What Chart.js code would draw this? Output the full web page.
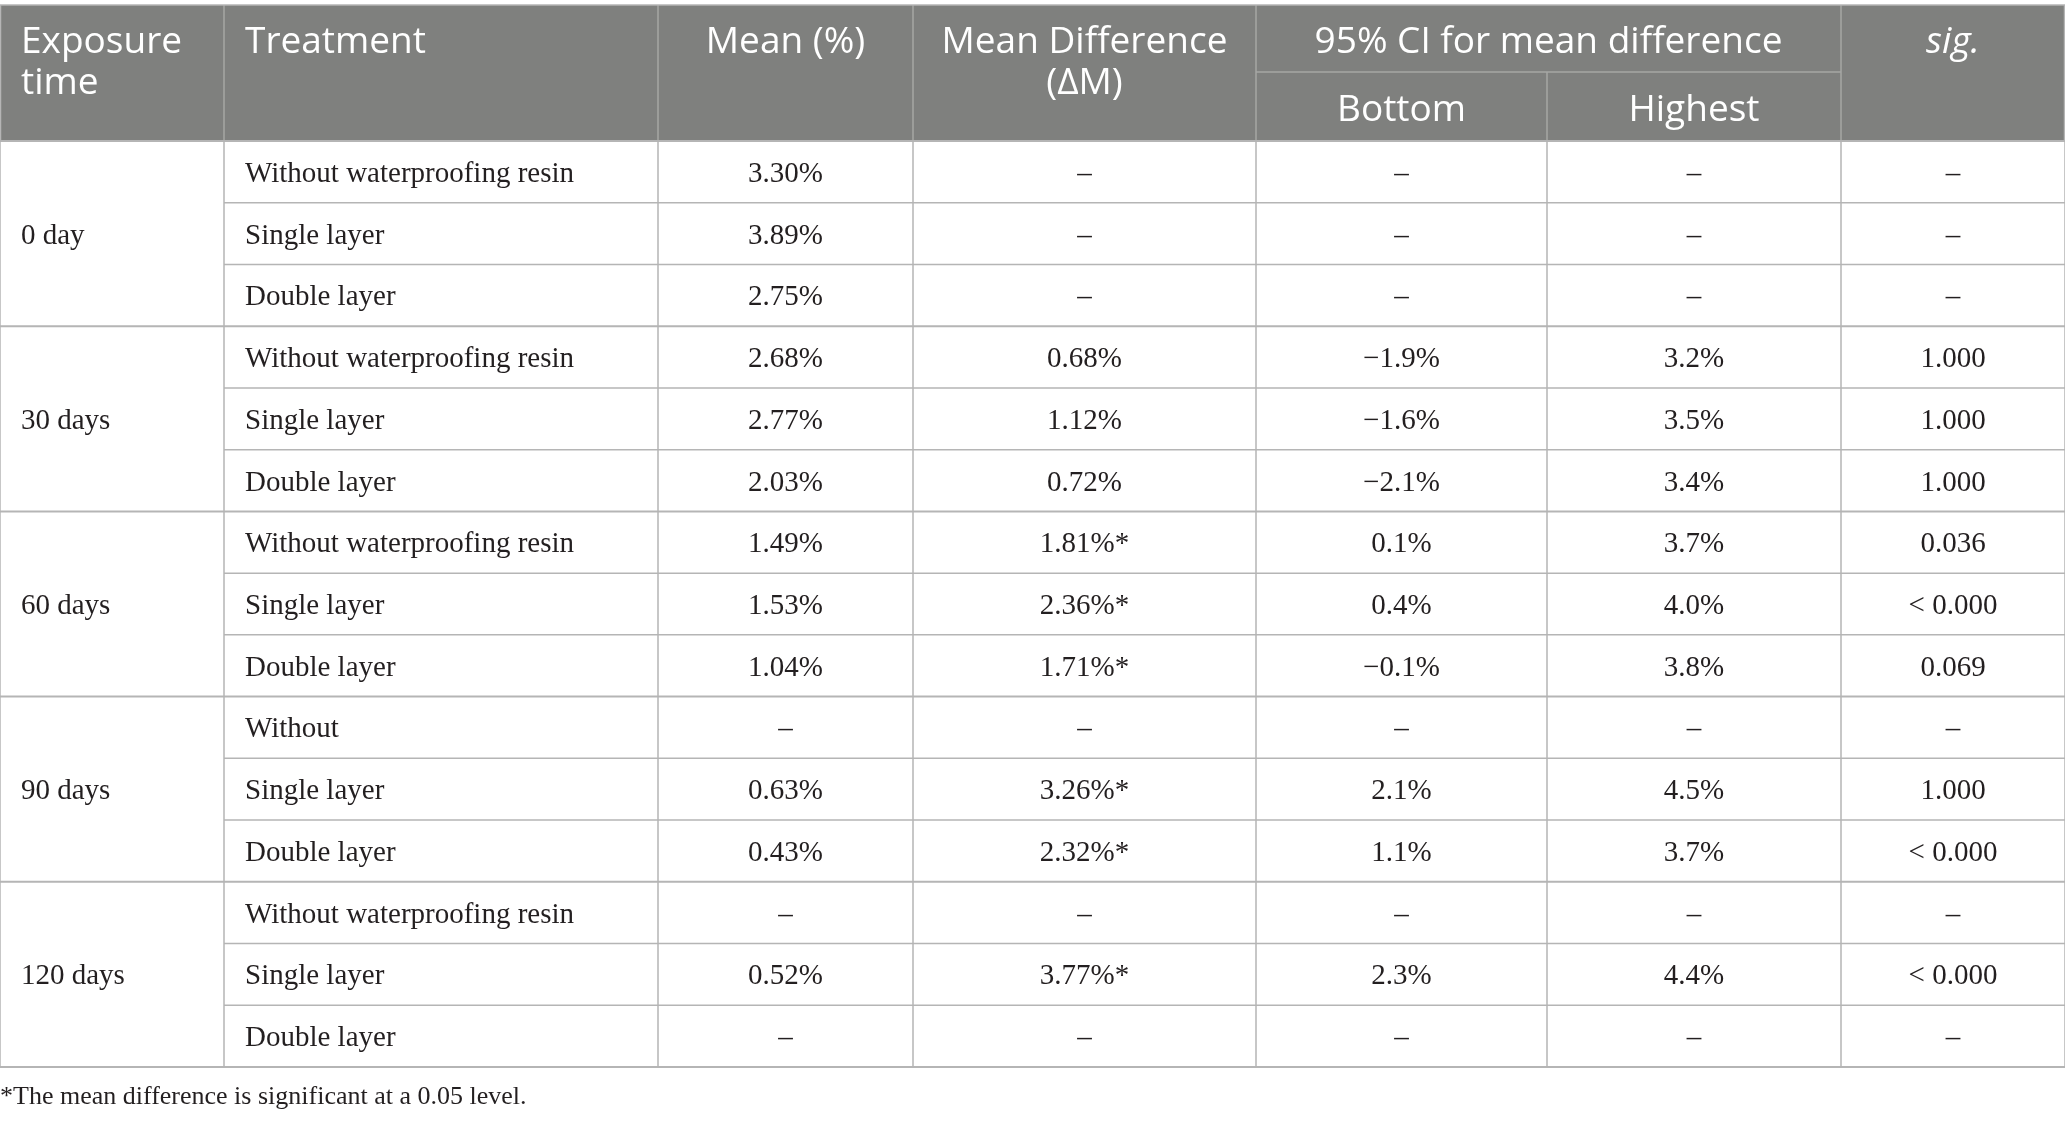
<!DOCTYPE html>
<html lang="en">
<head>
<meta charset="UTF-8">
<title>Mean values by exposure time and treatment</title>
<script src="https://cdn.jsdelivr.net/npm/chart.js"></script>
<style>
  html, body { margin: 0; padding: 0; background: #fff; }
  .wrap { width: 2065px; height: 1122px; position: relative; }
</style>
</head>
<body>
<div class="wrap"><canvas id="tableChart"></canvas></div>
<script>
  // table data
  const exposureTimes = ['0 day', '30 days', '60 days', '90 days', '120 days'];
  const treatments = [
    'Without waterproofing resin', 'Single layer', 'Double layer',
    'Without waterproofing resin', 'Single layer', 'Double layer',
    'Without waterproofing resin', 'Single layer', 'Double layer',
    'Without', 'Single layer', 'Double layer',
    'Without waterproofing resin', 'Single layer', 'Double layer'
  ];
  const meanValues = ['3.30%', '3.89%', '2.75%', '2.68%', '2.77%', '2.03%', '1.49%', '1.53%', '1.04%', '–', '0.63%', '0.43%', '–', '0.52%', '–'];
  const meanDiffs = ['–', '–', '–', '0.68%', '1.12%', '0.72%', '1.81%*', '2.36%*', '1.71%*', '–', '3.26%*', '2.32%*', '–', '3.77%*', '–'];
  const ciBottom = ['–', '–', '–', '−1.9%', '−1.6%', '−2.1%', '0.1%', '0.4%', '−0.1%', '–', '2.1%', '1.1%', '–', '2.3%', '–'];
  const ciHighest = ['–', '–', '–', '3.2%', '3.5%', '3.4%', '3.7%', '4.0%', '3.8%', '–', '4.5%', '3.7%', '–', '4.4%', '–'];
  const sigValues = ['–', '–', '–', '1.000', '1.000', '1.000', '0.036', '< 0.000', '0.069', '–', '1.000', '< 0.000', '–', '< 0.000', '–'];
  const headerLabels = ['Exposure\ntime', 'Treatment', 'Mean (%)', 'Mean Difference\n(ΔM)', '95% CI for mean difference', 'sig.'];
  const subHeaderLabels = ['Bottom', 'Highest'];
  const footnote = '*The mean difference is significant at a 0.05 level.';

  // layout (in scale units = page pixels)
  const colEdges = [0, 224, 658, 913, 1256, 1547, 1841, 2065];
  const headerTop = 5, headerMid = 72, headerBottom = 141, tableBottom = 1067;
  const rowsPerGroup = 3;
  const rowH = (tableBottom - headerBottom) / treatments.length;
  const headFont = '37px "Open Sans", sans-serif';
  const bodyFont = '29px "Liberation Serif", serif';

  const bodyColumns = [treatments, meanValues, meanDiffs, ciBottom, ciHighest, sigValues];

  // one invisible point per body cell, placed through the scales
  const cellPoints = [];
  exposureTimes.forEach((t, g) => {
    cellPoints.push({ x: colEdges[0] + 21, y: headerBottom + (g * rowsPerGroup + 1.5) * rowH, text: t, align: 'left' });
  });
  bodyColumns.forEach((col, c) => {
    col.forEach((v, r) => {
      const left = c === 0;
      cellPoints.push({
        x: left ? colEdges[1] + 21 : (colEdges[c + 1] + colEdges[c + 2]) / 2,
        y: headerBottom + (r + 0.5) * rowH,
        text: v,
        align: left ? 'left' : 'center'
      });
    });
  });

  const tablePlugin = {
    id: 'tablePlugin',
    beforeDatasetsDraw(chart) {
      const { ctx, scales: { x, y } } = chart;
      const X = v => x.getPixelForValue(v);
      const Y = v => y.getPixelForValue(v);
      ctx.save();
      // header background
      ctx.fillStyle = '#7f807e';
      ctx.fillRect(X(0), Y(headerTop), X(2065) - X(0), Y(headerBottom) - Y(headerTop));

      // header lines
      ctx.strokeStyle = '#a6a7a5';
      ctx.lineWidth = 1.5;
      const line = (x1, y1, x2, y2) => {
        ctx.beginPath();
        ctx.moveTo(X(x1), Y(y1));
        ctx.lineTo(X(x2), Y(y2));
        ctx.stroke();
      };
      [1, 2, 3, 4, 6].forEach(i => line(colEdges[i], headerTop, colEdges[i], headerBottom));
      line(colEdges[5], headerMid, colEdges[5], headerBottom);
      line(colEdges[4], headerMid, colEdges[6], headerMid);

      // body grid
      ctx.strokeStyle = '#b5b5b5';
      ctx.lineWidth = 1.5;
      line(0, headerTop, 2065, headerTop);
      for (let r = 0; r <= treatments.length; r++) {
        const yy = headerBottom + r * rowH;
        const groupEdge = r % rowsPerGroup === 0;
        if (groupEdge) {
          ctx.lineWidth = 2;
          line(0, yy, 2065, yy);
        } else {
          ctx.lineWidth = 1.5;
          line(colEdges[1], yy, 2065, yy);
        }
      }
      ctx.lineWidth = 1.5;
      colEdges.forEach(cx => line(cx, headerBottom, cx, tableBottom));
      line(2064.5, headerTop, 2064.5, headerBottom);
      line(0.5, headerTop, 0.5, headerBottom);

      // header text
      ctx.fillStyle = '#ffffff';
      ctx.font = headFont;
      ctx.textBaseline = 'alphabetic';
      const headPos = [
        { x: colEdges[0] + 21, align: 'left', c: 0 },
        { x: colEdges[1] + 21, align: 'left', c: 1 },
        { x: (colEdges[2] + colEdges[3]) / 2, align: 'center', c: 2 },
        { x: (colEdges[3] + colEdges[4]) / 2, align: 'center', c: 3 },
        { x: (colEdges[4] + colEdges[6]) / 2, align: 'center', c: 4 },
        { x: (colEdges[6] + colEdges[7]) / 2, align: 'center', c: 5 }
      ];
      headPos.forEach(h => {
        ctx.textAlign = h.align;
        ctx.font = h.c === 5 ? 'italic ' + headFont : headFont;
        headerLabels[h.c].split('\n').forEach((ln, i) => {
          ctx.fillText(ln, X(h.x), Y(53 + i * 41));
        });
      });
      ctx.font = headFont;
      ctx.textAlign = 'center';
      subHeaderLabels.forEach((s, i) => {
        ctx.fillText(s, X((colEdges[4 + i] + colEdges[5 + i]) / 2), Y(121));
      });

      // footnote
      ctx.fillStyle = '#231f20';
      ctx.font = '26px "Liberation Serif", serif';
      ctx.textAlign = 'left';
      ctx.fillText(footnote, X(0), Y(1104));
      ctx.restore();
    },
    afterDatasetsDraw(chart) {
      const { ctx } = chart;
      const meta = chart.getDatasetMeta(0);
      ctx.save();
      ctx.fillStyle = '#231f20';
      ctx.font = bodyFont;
      ctx.textBaseline = 'alphabetic';
      meta.data.forEach((pt, i) => {
        const d = cellPoints[i];
        ctx.textAlign = d.align;
        ctx.fillText(d.text, pt.x, pt.y + 10);
      });
      ctx.restore();
    }
  };

  new Chart(document.getElementById('tableChart'), {
    type: 'scatter',
    data: {
      datasets: [{
        data: cellPoints,
        pointRadius: 0,
        pointHoverRadius: 0
      }]
    },
    options: {
      responsive: true,
      maintainAspectRatio: false,
      animation: false,
      events: [],
      layout: { padding: 0 },
      plugins: { legend: { display: false }, tooltip: { enabled: false } },
      scales: {
        x: { type: 'linear', min: 0, max: 2065, display: false },
        y: { type: 'linear', min: 0, max: 1122, reverse: true, display: false }
      }
    },
    plugins: [tablePlugin]
  });
</script>
</body>
</html>
